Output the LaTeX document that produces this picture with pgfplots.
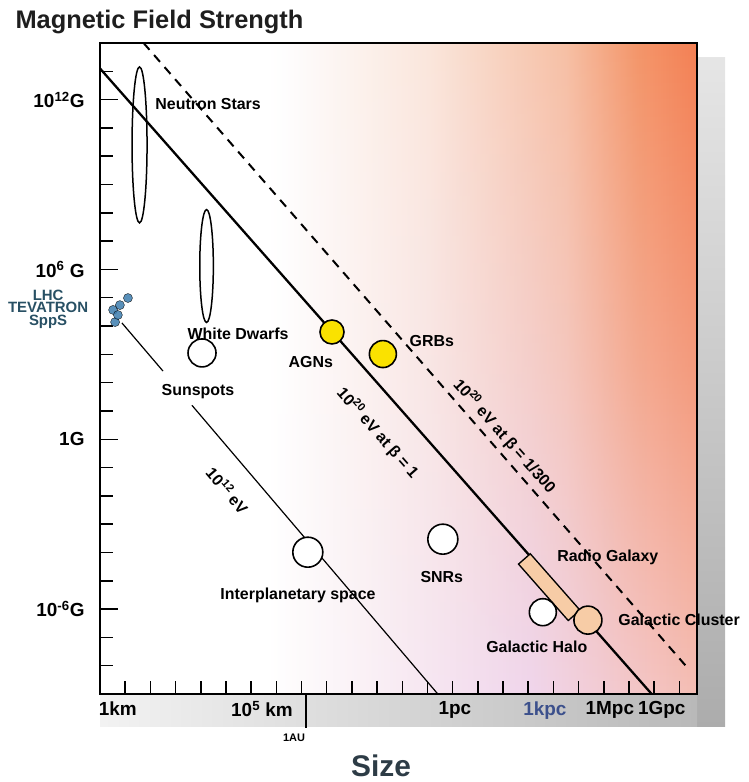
\documentclass[border=0pt]{standalone}
\usepackage{pgfplots}
\pgfplotsset{compat=1.18}
\usepackage{fontspec}
\setmainfont{Liberation Sans}
\usetikzlibrary{calc,fadings}
\pgfdeclarelayer{bg}
\pgfsetlayers{bg,main}
\definecolor{peach}{RGB}{247,204,166}
\definecolor{ylw}{RGB}{250,226,0}
\definecolor{lhcblue}{RGB}{60,125,175}
\definecolor{lhctext}{RGB}{40,80,100}
\definecolor{lav}{RGB}{178,178,218}
\definecolor{kpcblue}{RGB}{60,80,140}
\definecolor{b1}{RGB}{248,236,244}
\definecolor{b2}{RGB}{240,214,236}
\definecolor{b3}{RGB}{245,190,180}
\definecolor{o1}{RGB}{251,230,220}
\definecolor{o2}{RGB}{247,192,165}
\definecolor{o3}{RGB}{244,150,106}
\definecolor{o4}{RGB}{243,128,84}
\pgfdeclarehorizontalshading{hbase}{100bp}{color(0bp)=(white); color(39bp)=(white); color(50bp)=(b1); color(61bp)=(b2); color(75bp)=(b3); color(100bp)=(b3)}
\pgfdeclarehorizontalshading{horange}{100bp}{color(0bp)=(white); color(40bp)=(white); color(52.5bp)=(o1); color(64bp)=(o2); color(70bp)=(o3); color(75bp)=(o4); color(100bp)=(o4)}
\tikzfading[name=vfade, top color=transparent!0, bottom color=transparent!100, middle color=transparent!42]
\newcommand{\lab}{\fontsize{16}{17}\selectfont\bfseries}
\newcommand{\tlab}{\fontsize{19}{20}\selectfont\bfseries}
\begin{document}
\begin{tikzpicture}
\begin{axis}[
  scale only axis, width=597bp, height=651bp,
  xmin=0, xmax=23.7, ymin=-9, ymax=14,
  clip=false,
  xtick={1,...,23}, ytick={-8,...,13},
  xticklabels={}, yticklabels={},
  xtick pos=left, ytick pos=left,
  tick align=inside,
  major tick length=13bp,
  every tick/.style={black, line width=1.5bp},
  axis line style={line width=2.4bp},
  extra y ticks={-6,0,6,12}, extra y tick labels={}, extra y tick style={major tick length=18bp},
]
\coordinate (SW) at (rel axis cs:0,0);
\coordinate (SE) at (rel axis cs:1,0);
\coordinate (NE) at (rel axis cs:1,1);
\coordinate (AU) at (axis cs:8.17,-9);

% lines
\addplot[black, line width=2.3bp] coordinates {(0,13.1) (21.9,-9)};
\addplot[black, line width=2bp, dash pattern=on 9bp off 7bp] coordinates {(1.73,14) (23.3,-8.05)};
\addplot[black, line width=1.2bp] coordinates {(0.87,4.11) (2.5,2.41)};
\addplot[black, line width=1.2bp] coordinates {(3.65,1.20) (13.41,-9)};

% radio galaxy
\addplot[black, line width=17bp, shorten <=-1.5bp, shorten >=-1.5bp] coordinates {(16.87,-4.25) (18.8,-6.2)};
\addplot[peach, line width=14bp] coordinates {(16.87,-4.25) (18.8,-6.2)};

% LHC blob
\addplot[only marks, mark=*, mark size=4.5bp, mark options={draw=none, fill=lhcblue, opacity=0.85}]
  coordinates {(0.6,4.14) (0.52,4.57) (0.79,4.74) (1.11,4.99) (0.71,4.39)};

% ellipses
\addplot[only marks, mark=o, mark size=7.5bp, mark options={black, line width=1.5bp, yscale=10.4}]
  coordinates {(1.57,10.40)};
\addplot[only marks, mark=o, mark size=6.8bp, mark options={black, line width=1.5bp, yscale=8.3}]
  coordinates {(4.23,6.12)};

% circles
\addplot[only marks, mark=*, mark size=14bp, mark options={draw=black, fill=white, line width=1.6bp}]
  coordinates {(4.05,3.05)};
\addplot[only marks, mark=*, mark size=15bp, mark options={draw=black, fill=white, line width=1.6bp}]
  coordinates {(13.61,-3.53) (8.25,-3.99)};
\addplot[only marks, mark=*, mark size=13.5bp, mark options={draw=black, fill=white, line width=1.6bp}]
  coordinates {(17.58,-6.11)};
\addplot[only marks, mark=*, mark size=14bp, mark options={draw=black, fill=peach, line width=1.6bp}]
  coordinates {(19.37,-6.39)};
\addplot[only marks, mark=*, mark size=12bp, mark options={draw=black, fill=ylw, line width=1.6bp}]
  coordinates {(9.21,3.79)};
\addplot[only marks, mark=*, mark size=13.5bp, mark options={draw=black, fill=ylw, line width=1.6bp}]
  coordinates {(11.23,3.01)};

% labels
\node[font=\lab, anchor=west] at (axis cs:2.06,11.84) {Neutron Stars};
\node[font=\lab] at (axis cs:5.48,3.72) {White Dwarfs};
\node[font=\lab] at (axis cs:3.89,1.70) {Sunspots};
\node[font=\lab] at (axis cs:8.37,2.73) {AGNs};
\node[font=\lab] at (axis cs:13.17,3.47) {GRBs};
\node[font=\lab] at (axis cs:7.86,-5.5) {Interplanetary space};
\node[font=\lab] at (axis cs:13.57,-4.87) {SNRs};
\node[font=\lab] at (axis cs:20.16,-4.16) {Radio Galaxy};
\node[font=\lab, anchor=west] at (axis cs:20.44,-6.39) {Galactic Cluster};
\node[font=\lab] at (axis cs:17.34,-7.34) {Galactic Halo};
\node[font=\lab, rotate=-48.6, inner sep=0pt] at (axis cs:11.03,0.22) {10\textsuperscript{20} eV at β = 1};
\node[font=\lab, rotate=-48.6, inner sep=0pt] at (axis cs:16.07,0.11) {10\textsuperscript{20} eV at β = 1/300};
\node[font=\lab, rotate=-49.6, inner sep=0pt] at (axis cs:5.08,-1.8) {10\textsuperscript{12} eV};
\node[align=center, text=lhctext, font=\fontsize{15}{12.5}\selectfont\bfseries] at (axis cs:-2.06,4.6) {LHC\\TEVATRON\\SppS};

% y tick labels
\node[font=\tlab, anchor=east, xshift=-12bp] at (axis cs:0,12) {10\textsuperscript{12}G};
\node[font=\tlab, anchor=east, xshift=-12bp] at (axis cs:0,6) {10\textsuperscript{6} G};
\node[font=\tlab, anchor=east, xshift=-12bp] at (axis cs:0,0) {1G};
\node[font=\tlab, anchor=east, xshift=-12bp] at (axis cs:0,-6) {10\textsuperscript{-6}G};

% x tick labels
\node[font=\tlab, anchor=north, yshift=-4bp] at (axis cs:0.71,-9) {1km};
\node[font=\tlab, anchor=north, yshift=-4bp] at (axis cs:6.43,-9) {10\textsuperscript{5} km};
\node[font=\tlab, anchor=north, yshift=-4bp] at (axis cs:14.09,-9) {1pc};
\node[font=\tlab, anchor=north, yshift=-4bp, text=kpcblue] at (axis cs:17.66,-9) {1kpc};
\node[font=\tlab, anchor=north, yshift=-4bp] at (axis cs:20.24,-9) {1Mpc};
\node[font=\tlab, anchor=north, yshift=-4bp] at (axis cs:22.3,-9) {1Gpc};
\end{axis}
\draw[line width=1.8bp] (AU) -- ++(0,-34bp);
\begin{pgfonlayer}{bg}
\shade[shading=hbase] (SW) rectangle (NE);
\shade[shading=horange, path fading=vfade] (SW) rectangle (NE);
\shade[top color=gray!20, bottom color=gray!65] ($(NE)+(0,-15bp)$) rectangle ($(SE)+(28bp,-32bp)$);
\shade[left color=gray!10, middle color=lav, right color=gray!55] (SW) rectangle ($(SE)+(0,-32bp)$);
\end{pgfonlayer}
\node[font=\fontsize{11}{12}\selectfont\bfseries] at ($(SW)+(194bp,-44bp)$) {1AU};
\node[font=\fontsize{30}{32}\selectfont\bfseries, text={rgb,255:red,45;green,60;blue,70}] at ($(SW)+(281bp,-72bp)$) {Size};
\node[font=\fontsize{25.5}{27}\selectfont\bfseries, text={rgb,255:red,30;green,30;blue,30}, anchor=west] at ($(SW)+(-88bp,672bp)$) {Magnetic Field Strength};
\pgfresetboundingbox
\useasboundingbox ($(SW)+(-100bp,-88bp)$) rectangle ($(SW)+(649bp,694bp)$);
\end{tikzpicture}
\end{document}
